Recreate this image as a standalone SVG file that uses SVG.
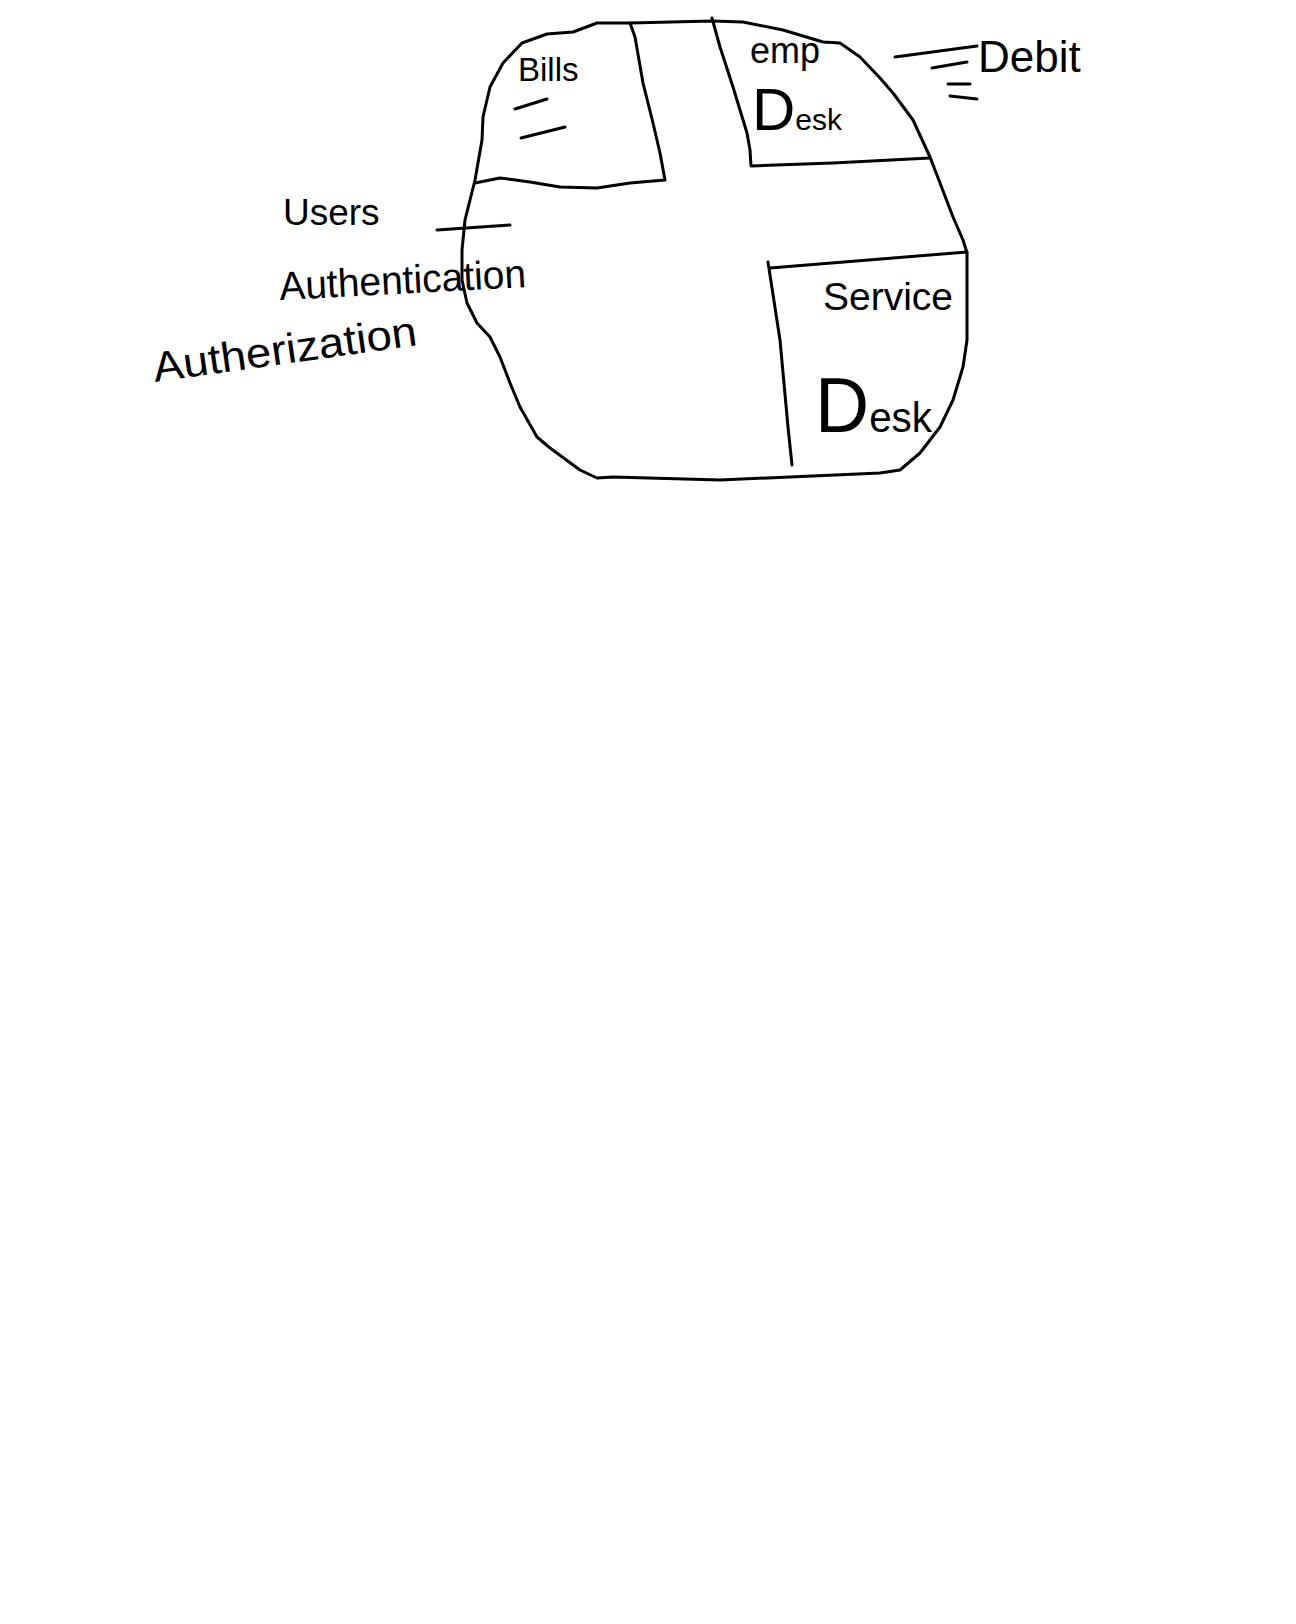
<svg xmlns="http://www.w3.org/2000/svg" width="1296" height="1624" viewBox="0 0 1296 1624">
  <style>
    .ink { fill: none; stroke: #000; stroke-width: 3; stroke-linecap: round; stroke-linejoin: round; }
    .lbl { font-family: "Liberation Sans", "DejaVu Sans", sans-serif; fill: #000; }
  </style>
  <rect width="1296" height="1624" fill="#fff"/>
  <g id="chart">
    <path class="ink" d="M630,23 L597,23 L573,32 L547,34 L522,43 L503,63 L490,87 L483,117 L482,140 L475,180 L465,220 L462,250 L462,280 L467,303 L477,323 L490,337 L500,357 L510,383 L520,407 L537,437 L550,448 L580,470 L597,478 L613,477 L720,480 L880,473 L900,470 L920,453 L940,427 L953,400 L963,367 L967,340 L967,253 L963,240 L953,217 L940,183 L930,157 L913,120 L893,93 L880,78 L860,57 L840,43 L823,42 L783,30 L743,22 L712,21 L630,23 Z"/>
  </g>
  <g id="bills">
    <path class="ink" d="M630,23 L635,37 L643,83 L653,123 L660,153 L665,180 L630,183 L597,188 L560,187 L530,182 L500,178 L475,183"/>
    <path class="ink" d="M515,109 L547,99 M521,138 L565,127"/>
    <text class="lbl" x="518" y="81" font-size="33">Bills</text>
  </g>
  <g id="emp-desk">
    <path class="ink" d="M712,18 L720,47 L733,87 L747,133 L750,150 L751,166 L833,163 L930,158"/>
    <text class="lbl" x="750" y="63" font-size="36">emp</text>
    <text class="lbl" x="752" y="130"><tspan font-size="60">D</tspan><tspan font-size="30">esk</tspan></text>
  </g>
  <g id="service-desk">
    <path class="ink" d="M770,268 L967,252 M768,262 L780,340 L788,427 L792,465"/>
    <text class="lbl" x="823" y="310" font-size="38" textLength="130" lengthAdjust="spacingAndGlyphs">Service</text>
    <text class="lbl" x="815" y="432" textLength="117" lengthAdjust="spacingAndGlyphs"><tspan font-size="78">D</tspan><tspan font-size="42">esk</tspan></text>
  </g>
  <g id="debit">
    <text class="lbl" x="978" y="72" font-size="44">Debit</text>
  </g>
  <g id="users">
    <text class="lbl" x="283" y="225" font-size="37">Users</text>
  </g>
  <g id="authentication">
    <text class="lbl" x="280" y="300" font-size="40" textLength="247" lengthAdjust="spacingAndGlyphs" transform="rotate(-3 280 300)">Authentication</text>
    <path class="ink" d="M437,230 L510,225"/>
  </g>
  <g id="autherization">
    <text class="lbl" x="155" y="382" font-size="42" textLength="266" lengthAdjust="spacingAndGlyphs" transform="rotate(-8 155 382)">Autherization</text>
  </g>
  <g id="connectors">
    <path class="ink" d="M895,57 L977,46 M932,68 L967,62 M948,84 L970,84 M950,96 L977,99"/>
  </g>
</svg>
